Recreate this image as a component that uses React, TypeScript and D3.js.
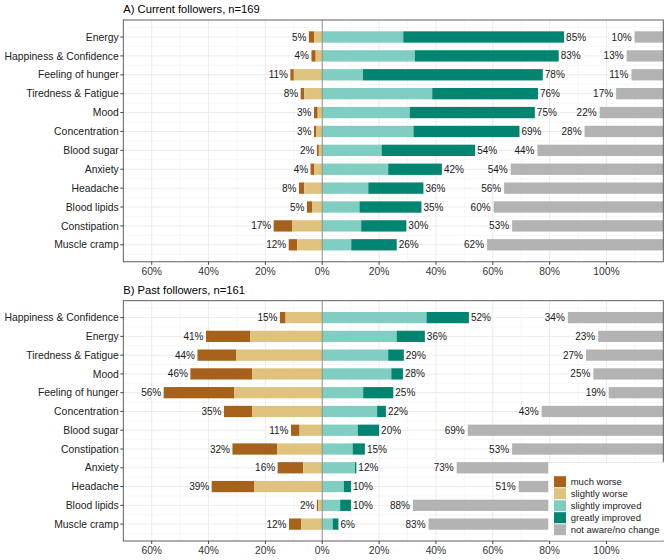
import React, { useEffect } from "react";
import * as d3 from "d3";

// ---------- data ----------
const categoriesA = ["Energy", "Happiness & Confidence", "Feeling of hunger", "Tiredness & Fatigue", "Mood", "Concentration", "Blood sugar", "Anxiety", "Headache", "Blood lipids", "Constipation", "Muscle cramp"];
const muchWorseA = [1.8, 1.5, 1.2, 1.3, 1.3, 0.7, 0.7, 1.2, 1.8, 1.9, 6.6, 3.0];
const slightlyWorseA = [2.9, 2.3, 10.0, 6.3, 1.6, 2.2, 1.2, 2.9, 6.4, 3.5, 10.5, 8.8];
const slightlyImprovedA = [28.5, 32.6, 14.3, 38.7, 30.8, 32.1, 20.9, 23.2, 16.2, 13.1, 13.7, 10.2];
const greatlyImprovedA = [56.6, 50.6, 63.3, 37.2, 44.0, 37.3, 32.9, 18.9, 19.4, 21.8, 15.9, 16.0];
const notAwareA = [10.1, 12.9, 11.2, 16.6, 22.4, 27.7, 44.3, 53.7, 56.0, 59.7, 53.2, 62.0];

const categoriesB = ["Happiness & Confidence", "Energy", "Tiredness & Fatigue", "Mood", "Feeling of hunger", "Concentration", "Blood sugar", "Constipation", "Anxiety", "Headache", "Blood lipids", "Muscle cramp"];
const muchWorseB = [2.0, 15.5, 13.7, 21.7, 24.9, 9.9, 3.0, 15.7, 9.0, 14.9, 0.5, 4.3];
const slightlyWorseB = [12.9, 25.4, 30.2, 24.7, 30.9, 24.7, 8.0, 15.9, 6.7, 24.0, 1.4, 7.4];
const slightlyImprovedB = [36.7, 26.2, 23.2, 24.3, 14.4, 19.3, 12.5, 10.7, 11.5, 7.6, 6.3, 3.7];
const greatlyImprovedB = [14.9, 9.9, 5.5, 4.1, 10.6, 3.1, 7.5, 4.3, 0.5, 2.5, 3.8, 2.0];
const notAwareB = [33.6, 22.9, 27.2, 24.6, 19.2, 42.8, 68.8, 53.2, 72.7, 50.9, 88.1, 82.6];

const tickValues = [-60, -40, -20, 0, 20, 40, 60, 80, 100];
const minorTicks = [-50, -30, -10, 10, 30, 50, 70, 90, 110];
const legendLabels = ["much worse", "slightly worse", "slightly improved", "greatly improved", "not aware/no change"];
const colors = ["#A6611A", "#DFC27D", "#80CDC1", "#018571", "#B3B3B3"];
const titleA = "A) Current followers, n=169";
const titleB = "B) Past followers, n=161";

const FONT = "'Liberation Sans', Arial, Helvetica, sans-serif";
const W = 668;
const H = 560;
const X0 = 123.3;
const X1 = 663.3;
const X_MAX = 120;

interface PanelProps {
  title: string;
  top: number;
  bottom: number;
  cats: string[];
  mw: number[];
  sw: number[];
  si: number[];
  gi: number[];
  na: number[];
}

function Panel({ title, top, bottom, cats, mw, sw, si, gi, na }: PanelProps) {
  const x = d3.scaleLinear().domain([-70, X_MAX]).range([X0, X1]);
  const y = d3.scaleLinear().domain([0.1, cats.length + 0.9]).range([top, bottom]);
  const bh = y(1.6) - y(1);
  const fmt = (v: number) => `${Math.round(Math.abs(v))}%`;
  const rows = cats.map((c, i) => ({ c, i: i + 1 }));
  const halfRows = d3.range(0.5, cats.length + 1, 1);
  return (
    <g>
      <text x={X0} y={top - 7} fontSize={11.2} fill="#000" fontFamily={FONT}>{title}</text>
      <rect x={X0} y={top} width={X1 - X0} height={bottom - top} fill="#fff" />
      {minorTicks.map((t) => (
        <line key={"mx" + t} x1={x(t)} x2={x(t)} y1={top} y2={bottom} stroke="#F2F2F2" strokeWidth={0.6} />
      ))}
      {halfRows.map((t) => (
        <line key={"my" + t} x1={X0} x2={X1} y1={y(t)} y2={y(t)} stroke="#F2F2F2" strokeWidth={0.6} />
      ))}
      {tickValues.map((t) => (
        <line key={"gx" + t} x1={x(t)} x2={x(t)} y1={top} y2={bottom} stroke="#EBEBEB" strokeWidth={1} />
      ))}
      {rows.map((r) => (
        <line key={"gy" + r.i} x1={X0} x2={X1} y1={y(r.i)} y2={y(r.i)} stroke="#EBEBEB" strokeWidth={1} />
      ))}
      {rows.map((r) => {
        const k = r.i - 1;
        const yc = y(r.i);
        const worse = mw[k] + sw[k];
        const better = si[k] + gi[k];
        return (
          <g key={"bar" + r.i}>
            <rect x={x(-worse)} y={yc - bh / 2} width={x(-sw[k]) - x(-worse)} height={bh} fill={colors[0]} />
            <rect x={x(-sw[k])} y={yc - bh / 2} width={x(0) - x(-sw[k])} height={bh} fill={colors[1]} />
            <rect x={x(0)} y={yc - bh / 2} width={x(si[k]) - x(0)} height={bh} fill={colors[2]} />
            <rect x={x(si[k])} y={yc - bh / 2} width={x(better) - x(si[k])} height={bh} fill={colors[3]} />
            <rect x={x(X_MAX - na[k])} y={yc - bh / 2} width={x(X_MAX) - x(X_MAX - na[k])} height={bh} fill={colors[4]} />
          </g>
        );
      })}
      <line x1={x(0)} x2={x(0)} y1={top} y2={bottom} stroke="#7F7F7F" strokeWidth={0.8} />
      {rows.map((r) => {
        const k = r.i - 1;
        const yc = y(r.i);
        const worse = mw[k] + sw[k];
        const better = si[k] + gi[k];
        return (
          <g key={"lab" + r.i} fontFamily={FONT} fontSize={10} fill="#1a1a1a">
            <text x={x(-worse) - 2.5} y={yc} dy="0.35em" textAnchor="end">{fmt(worse)}</text>
            <text x={x(better) + 2} y={yc} dy="0.35em" textAnchor="start">{fmt(better)}</text>
            <text x={x(X_MAX - na[k]) - 3} y={yc} dy="0.35em" textAnchor="end">{fmt(na[k])}</text>
          </g>
        );
      })}
      <rect x={X0} y={top} width={X1 - X0} height={bottom - top} fill="none" stroke="#4D4D4D" strokeWidth={0.9} />
      {rows.map((r) => (
        <g key={"yt" + r.i}>
          <line x1={X0 - 3} x2={X0} y1={y(r.i)} y2={y(r.i)} stroke="#333" strokeWidth={0.9} />
          <text x={X0 - 4.5} y={y(r.i)} dy="0.35em" textAnchor="end" fontSize={10.4} fontFamily={FONT} fill="#222">{r.c}</text>
        </g>
      ))}
      {tickValues.map((t) => (
        <g key={"xt" + t}>
          <line x1={x(t)} x2={x(t)} y1={bottom} y2={bottom + 3} stroke="#333" strokeWidth={0.9} />
          <text x={x(t)} y={bottom + 9.5} dy="0.35em" textAnchor="middle" fontSize={10.3} fontFamily={FONT} fill="#333">{`${Math.abs(t)}%`}</text>
        </g>
      ))}
    </g>
  );
}

export default function App() {
  useEffect(() => {
    document.body.style.margin = "0";
  }, []);
  const legendY = d3.scaleLinear().domain([0, 1]).range([475.7, 487.7]);
  return (
    <svg width={W} height={H} style={{ display: "block", background: "#fff" }}>
      <rect x={0} y={0} width={W} height={H} fill="#fff" />
      <Panel title={titleA} top={20} bottom={261.8} cats={categoriesA} mw={muchWorseA} sw={slightlyWorseA} si={slightlyImprovedA} gi={greatlyImprovedA} na={notAwareA} />
      <Panel title={titleB} top={300.7} bottom={541} cats={categoriesB} mw={muchWorseB} sw={slightlyWorseB} si={slightlyImprovedB} gi={greatlyImprovedB} na={notAwareB} />
      <g>
        <rect x={548.3} y={462.3} width={W - 548.3} height={78.2} fill="#fff" />
        {legendLabels.map((l, i) => (
          <g key={l}>
            <rect x={554} y={legendY(i) + 0.5} width={12} height={11} fill={colors[i]} />
            <text x={570.7} y={legendY(i) + 6} dy="0.35em" fontSize={9.5} fontFamily={FONT} fill="#1a1a1a">{l}</text>
          </g>
        ))}
      </g>
    </svg>
  );
}
